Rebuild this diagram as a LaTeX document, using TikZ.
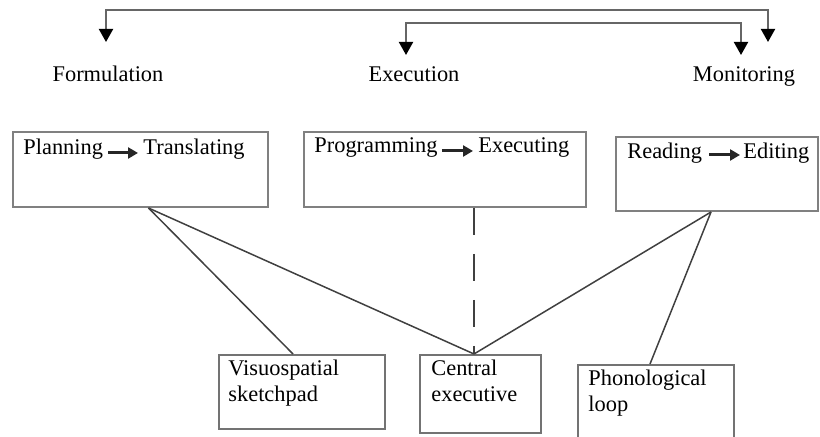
\documentclass[tikz,border=0pt]{standalone}
\usepackage{fontspec}
\setmainfont{Liberation Serif}
\usetikzlibrary{arrows.meta, positioning}

\begin{document}
\begin{tikzpicture}[x=0.5pt, y=-0.5pt,
    every node/.style={font=\fontsize{11.2}{13}\selectfont, inner sep=0pt},
    stage/.style={anchor=base},
    word/.style={anchor=base west},
    block/.style={draw=black!50, line width=1pt, anchor=north west},
    store/.style={draw=black!55, line width=1pt, anchor=north west},
    caption/.style={anchor=north west, align=left},
    flow/.style={{Triangle[width=7pt,length=6.5pt,color=black]}-{Triangle[width=7pt,length=6.5pt,color=black]},
                 black!60, line width=1pt},
    inarrow/.style={-{Triangle[width=5.5pt,length=5pt]}, black!85, line width=1.5pt},
    link/.style={black!75, line width=0.75pt}
]
    \clip (0,0) rectangle (820,437);

    % stages and the control loops above them
    \node[stage] (form) at (108,82) {Formulation};
    \node[stage] (exec) at (414,82) {Execution};
    \node[stage] (moni) at (744,82) {Monitoring};
    \coordinate (formIn)  at (106,42);
    \coordinate (moniOut) at (768,42);
    \coordinate (execIn)  at (406,55);
    \coordinate (moniIn)  at (741,55);
    \draw[flow] (formIn) -- ++(0,-32) -| (moniOut);
    \draw[flow] (execIn) -- ++(0,-32) -| (moniIn);

    % process boxes
    \node[block, minimum width=127.5pt, minimum height=37.5pt] (formbox) at (12,131) {};
    \node[block, minimum width=141pt,   minimum height=37.5pt] (execbox) at (303,131) {};
    \node[block, minimum width=101pt,   minimum height=37pt]   (monibox) at (615,136) {};

    \node[word] (plan)  at (23,155)  {Planning};
    \node[word] (trans) at (143,155) {Translating};
    \node[word] (prog)  at (314,153) {Programming};
    \node[word] (execg) at (478,153) {Executing};
    \node[word] (read)  at (627,159) {Reading};
    \node[word] (edit)  at (743,159) {Editing};
    \draw[inarrow] ([shift={(5,-2)}]plan.base east) -- ([shift={(-5,-2)}]trans.base west);
    \draw[inarrow] ([shift={(4,-2)}]prog.base east) -- ([shift={(-5,-2)}]execg.base west);
    \draw[inarrow] ([shift={(7,-4)}]read.base east) -- ([shift={(-3,-4)}]edit.base west);

    % working memory components
    \node[store, minimum width=83pt,   minimum height=37pt] (visu) at (218,354) {};
    \node[store, minimum width=60.5pt, minimum height=39pt] (cent) at (419,354) {};
    \node[store, minimum width=78pt,   minimum height=43pt] (phon) at (577,364) {};
    \node[caption] (visutext) at (228,360) {Visuospatial\\sketchpad};
    \node[caption] (centtext) at (431,360) {Central\\executive};
    \node[caption] (phontext) at (588,370) {Phonological\\loop};

    \coordinate (hub) at ([xshift=-3.25pt]cent.north);
    \draw[link] ([xshift=4pt]formbox.south) -- ([xshift=-4.5pt]visu.north);
    \draw[link] ([xshift=4pt]formbox.south) -- (hub);
    \draw[link, dash pattern=on 13.5pt off 9.5pt] (hub |- execbox.south) -- (hub);
    \draw[link] ([xshift=-3pt]monibox.south) -- (hub);
    \draw[link] ([xshift=-3pt]monibox.south) -- ([xshift=-3pt]phon.north);
\end{tikzpicture}
\end{document}
